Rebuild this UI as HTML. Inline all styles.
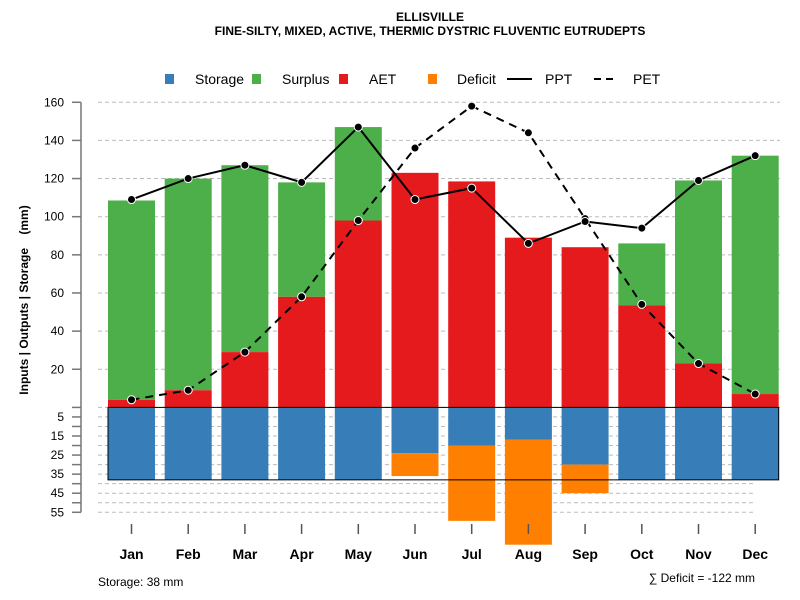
<!DOCTYPE html>
<html><head><meta charset="utf-8"><style>
body{margin:0;background:#fff}
svg{display:block;font-family:"Liberation Sans",sans-serif}
</style></head><body>
<svg id="c" width="800" height="600" xmlns="http://www.w3.org/2000/svg">
<text x="430" y="21" text-anchor="middle" font-size="12" font-weight="bold">ELLISVILLE</text>
<text x="430" y="35" text-anchor="middle" font-size="12" font-weight="bold">FINE-SILTY, MIXED, ACTIVE, THERMIC DYSTRIC FLUVENTIC EUTRUDEPTS</text>
<g font-size="14">
<g><rect x="165" y="74" width="9" height="10" fill="#377eb8"/><text x="195" y="84">Storage</text></g>
<g><rect x="252" y="74" width="9" height="10" fill="#4daf4a"/><text x="282" y="84">Surplus</text></g>
<g><rect x="339" y="74" width="9" height="10" fill="#e41a1c"/><text x="369" y="84">AET</text></g>
<g><rect x="428" y="74" width="9" height="10" fill="#ff7f00"/><text x="457" y="84">Deficit</text></g>
<g><line x1="507" y1="79" x2="532" y2="79" stroke="#000" stroke-width="2"/><text x="545" y="84">PPT</text></g>
<g><line x1="594" y1="79" x2="617" y2="79" stroke="#000" stroke-width="2" stroke-dasharray="7,5"/><text x="633" y="84">PET</text></g>
</g>
<text transform="translate(28,300) rotate(-90)" text-anchor="middle" font-size="12" font-weight="bold" style="white-space:pre" xml:space="preserve">Inputs | Outputs | Storage    (mm)</text>
<text x="98" y="586" font-size="12">Storage: 38 mm</text>
<text x="755" y="582" text-anchor="end" font-size="12">∑ Deficit = -122 mm</text>
<g id="plot"></g>
</svg>
<script>
const months=["Jan","Feb","Mar","Apr","May","Jun","Jul","Aug","Sep","Oct","Nov","Dec"];
const aet=[4,9,29,58,98,123,118.5,89,84,53.5,23,7];
const surplus=[104.5,111,98,60,49,0,0,0,0,32.5,96,125];
const storage=[38,38,38,38,38,24,20,17,30,38,38,38];
const deficitVals=[0,0,0,0,0,12,39.5,55,15,0,0,0];
const ppt=[109,120,127,118,147,109,115,86,97.5,94,119,132];
const pet=[4,9,29,58,98,136,158,144,99,54,23,7];
const upTicks=[20,40,60,80,100,120,140,160];
const lowTicks=[5,15,25,35,45,55];
const storageCap=38;

const NS="http://www.w3.org/2000/svg";
const g=document.getElementById('plot');
const y0=407.4, k=1.907;
const yU=v=>y0-v*k, yL=v=>y0+v*k;
const xC=i=>131.5+i*56.7, bw=47;
function el(t,a,p){const e=document.createElementNS(NS,t);for(const q in a)e.setAttribute(q,a[q]);(p||g).appendChild(e);return e;}
for(let v=0;v<=160;v+=20){const l=el('line',{x1:98,x2:780,y1:yU(v),y2:yU(v),stroke:'#bbb','stroke-dasharray':'4,3'});

}
for(let v=5;v<=55;v+=5){const l=el('line',{x1:98,x2:755,y1:yL(v),y2:yL(v),stroke:'#bbb','stroke-dasharray':'4,3'});

}
const ax=el('line',{x1:81,x2:81,y1:yU(160),y2:yL(55),stroke:'#777','stroke-width':1.5});


upTicks.forEach(v=>{el('line',{x1:72,x2:81,y1:yU(v),y2:yU(v),stroke:'#777','stroke-width':1.5});
const t=el('text',{x:64,y:yU(v)+4,'text-anchor':'end','font-size':12});t.textContent=v;

});
for(let v=0;v<=55;v+=5)el('line',{x1:72,x2:81,y1:yL(v),y2:yL(v),stroke:'#777','stroke-width':1.5});
lowTicks.forEach(v=>{const t=el('text',{x:64,y:yL(v)+4,'text-anchor':'end','font-size':12});t.textContent=v;

});
months.forEach((m,i)=>{
 const x=xC(i)-bw/2;
 let r=el('rect',{x:x,y:yU(aet[i]+surplus[i]),width:bw,height:surplus[i]*k,fill:'#4daf4a'});
 
 
 r=el('rect',{x:x,y:yU(aet[i]),width:bw,height:aet[i]*k,fill:'#e41a1c'});
 
 
 r=el('rect',{x:x,y:y0,width:bw,height:storage[i]*k,fill:'#377eb8'});
 
 
 r=el('rect',{x:x,y:yL(storage[i]),width:bw,height:deficitVals[i]*k,fill:'#ff7f00'});
 
 
 el('line',{x1:xC(i),x2:xC(i),y1:524,y2:534,stroke:'#555','stroke-width':1.5});
 const t=el('text',{x:xC(i),y:559,'text-anchor':'middle','font-size':14,'font-weight':'bold'});t.textContent=m;
 
 
});
const box=el('rect',{x:xC(0)-bw/2,y:y0,width:xC(11)+bw/2-(xC(0)-bw/2),height:storageCap*k,fill:'none',stroke:'#000','stroke-width':1});


function line(arr,name,dash){
 const p=el('polyline',{points:arr.map((v,i)=>xC(i)+','+yU(v)).join(' '),fill:'none',stroke:'#000','stroke-width':2,'stroke-dasharray':dash||'none'});
 
 
 arr.forEach((v,i)=>{const c=el('circle',{cx:xC(i),cy:yU(v),r:4,fill:'#000',stroke:'#fff','stroke-width':1});
 
 });
}
line(pet,'pet','8,6');
line(ppt,'ppt');
</script>
</body></html>
